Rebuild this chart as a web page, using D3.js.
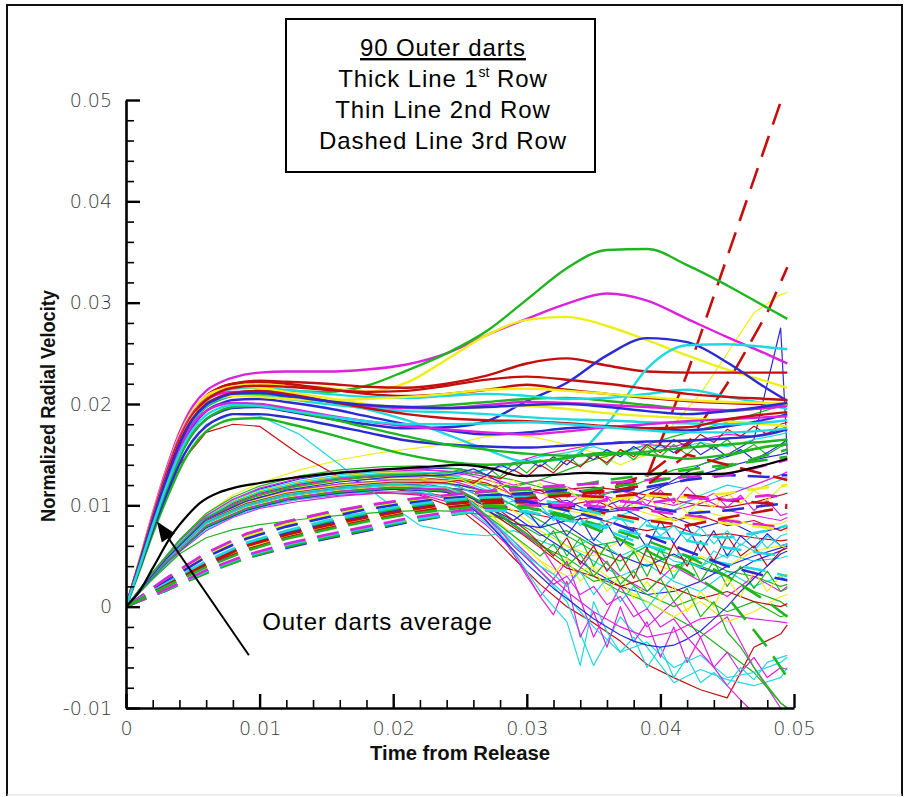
<!DOCTYPE html>
<html>
<head>
<meta charset="utf-8">
<script src="https://cdn.jsdelivr.net/npm/d3@7"></script>
<style>
  html, body { margin: 0; padding: 0; background: #fff; }
  svg { display: block; }
</style>
</head>
<body>
<svg id="chart" width="904" height="797"></svg>
<script>
// ---------------------------------------------------------------
// Radial velocity histories of the 90 outer darts
// ---------------------------------------------------------------

// Axis ticks
const xTicks = [0, 0.01, 0.02, 0.03, 0.04, 0.05];
const xTickLabels = ["0", "0.01", "0.02", "0.03", "0.04", "0.05"];
const yTicks = [-0.01, 0, 0.01, 0.02, 0.03, 0.04, 0.05];
const yTickLabels = ["-0.01", "0", "0.01", "0.02", "0.03", "0.04", "0.05"];

// 1st row (thick lines): time samples and velocity per dart
const row1Time = [0, .001, .002, .003, .004, .005, .006, .007, .008, .010, .012, .015,
                  .018, .021, .024, .027, .030, .033, .036, .039, .042, .045, .048, .0495];
const row1Velocity = [
  [0,.0045,.0092,.0135,.0172,.0198,.0213,.0221,.0226,.0231,.0232,.0232,.0234,.0239,.0250,.0268,.0284,.0299,.0309,.0302,.0284,.0266,.0249,.0240],
  [0,.0040,.0082,.0122,.0158,.0184,.0199,.0206,.0210,.0213,.0213,.0212,.0218,.0233,.0250,.0272,.0303,.0334,.0352,.0353,.0337,.0317,.0295,.0284],
  [0,.0044,.0090,.0131,.0167,.0192,.0206,.0213,.0217,.0220,.0219,.0216,.0212,.0221,.0244,.0268,.0283,.0286,.0277,.0263,.0248,.0234,.0222,.0216],
  [0,.0043,.0088,.0130,.0166,.0192,.0208,.0216,.0220,.0223,.0222,.0220,.0217,.0216,.0220,.0228,.0240,.0245,.0238,.0232,.0231,.0231,.0231,.0231],
  [0,.0038,.0078,.0115,.0148,.0171,.0185,.0192,.0196,.0197,.0193,.0186,.0180,.0176,.0177,.0183,.0203,.0221,.0248,.0265,.0261,.0241,.0215,.0203],
  [0,.0042,.0085,.0126,.0161,.0186,.0200,.0207,.0211,.0212,.0209,.0203,.0195,.0184,.0170,.0155,.0143,.0146,.0180,.0235,.0258,.0259,.0256,.0254],
  [0,.0044,.0089,.0131,.0167,.0193,.0208,.0216,.0220,.0222,.0220,.0215,.0210,.0208,.0210,.0214,.0219,.0214,.0210,.0206,.0203,.0201,.0200,.0200],
  [0,.0041,.0083,.0123,.0158,.0183,.0197,.0204,.0208,.0210,.0207,.0203,.0199,.0197,.0199,.0202,.0205,.0206,.0203,.0199,.0195,.0193,.0197,.0200],
  [0,.0040,.0081,.0120,.0154,.0178,.0193,.0200,.0204,.0205,.0202,.0196,.0188,.0180,.0174,.0170,.0172,.0176,.0178,.0176,.0174,.0178,.0185,.0190],
  [0,.0043,.0087,.0128,.0163,.0189,.0203,.0211,.0215,.0216,.0214,.0210,.0207,.0206,.0208,.0210,.0208,.0205,.0206,.0210,.0214,.0207,.0200,.0195],
  [0,.0045,.0091,.0133,.0169,.0194,.0208,.0214,.0217,.0216,.0212,.0206,.0200,.0196,.0195,.0197,.0198,.0195,.0191,.0188,.0186,.0183,.0180,.0178],
  [0,.0044,.0090,.0132,.0167,.0191,.0204,.0210,.0212,.0212,.0209,.0203,.0198,.0196,.0196,.0199,.0202,.0201,.0199,.0197,.0195,.0194,.0196,.0198],
  [0,.0043,.0087,.0129,.0164,.0189,.0204,.0212,.0216,.0218,.0217,.0214,.0212,.0213,.0218,.0224,.0227,.0224,.0220,.0215,.0210,.0207,.0205,.0204],
  [0,.0035,.0072,.0105,.0135,.0158,.0173,.0181,.0185,.0186,.0181,.0171,.0160,.0150,.0143,.0140,.0142,.0147,.0152,.0150,.0146,.0150,.0158,.0160],
  [0,.0037,.0075,.0110,.0141,.0164,.0178,.0186,.0190,.0190,.0187,.0180,.0172,.0164,.0160,.0158,.0157,.0159,.0161,.0163,.0164,.0166,.0170,.0175],
  [0,.0041,.0084,.0124,.0159,.0184,.0198,.0205,.0208,.0208,.0205,.0200,.0196,.0193,.0192,.0190,.0187,.0185,.0184,.0182,.0181,.0180,.0182,.0184],
  [0,.0042,.0086,.0127,.0162,.0187,.0200,.0206,.0208,.0207,.0205,.0204,.0205,.0207,.0210,.0214,.0215,.0213,.0210,.0207,.0204,.0202,.0201,.0200],
  [0,.0041,.0083,.0122,.0156,.0180,.0193,.0199,.0201,.0200,.0196,.0189,.0183,.0178,.0175,.0172,.0170,.0173,.0177,.0180,.0183,.0185,.0187,.0188],
  [0,.0042,.0086,.0127,.0162,.0186,.0200,.0207,.0211,.0213,.0210,.0203,.0196,.0190,.0186,.0184,.0183,.0181,.0178,.0176,.0177,.0185,.0190,.0192],
  [0,.0038,.0078,.0115,.0147,.0171,.0185,.0193,.0197,.0198,.0194,.0186,.0177,.0168,.0160,.0155,.0151,.0149,.0150,.0153,.0157,.0160,.0163,.0165],
  [0,.0042,.0085,.0125,.0160,.0185,.0199,.0206,.0210,.0211,.0208,.0203,.0199,.0197,.0196,.0197,.0199,.0200,.0197,.0193,.0190,.0193,.0198,.0201],
  [0,.0039,.0080,.0118,.0151,.0175,.0189,.0196,.0199,.0198,.0194,.0188,.0183,.0180,.0180,.0181,.0182,.0180,.0177,.0174,.0172,.0172,.0174,.0176]
];
const row1Colors = ["magenta","green","yellow","red","blue","cyan","red","green","blue","cyan","yellow",
                    "magenta","red","green","blue","cyan","yellow","magenta","red","green","blue","cyan"];

// 2nd row (thin lines), coarse sampling
const row2Time = [0, .002, .004, .006, .008, .010, .013, .016, .019, .022, .025, .027,
                  .029, .031, .033, .035, .037, .039, .041, .043, .045, .047, .049, .0495];
const row2Velocity = [
  [0,.0030,.0058,.0080,.0093,.0101,.0108,.0112,.0113,.0110,.0096,.0075,.0048,.0022,.0000,-.0016,-.0034,-.0057,-.0070,-.0082,-.0090,-.0040,-.0027,-.0018],
  [0,.0031,.0060,.0083,.0097,.0106,.0113,.0117,.0119,.0116,.0102,.0082,.0060,.0035,.0005,-.0058,-.0010,-.0040,-.0075,-.0062,-.0072,-.0078,-.0070,-.0060],
  [0,.0029,.0057,.0078,.0091,.0099,.0106,.0110,.0112,.0111,.0100,.0080,.0055,.0010,.0045,-.0030,.0020,-.0020,.0005,-.0030,-.0010,-.0060,-.0100,-.0105],
  [0,.0032,.0062,.0085,.0099,.0108,.0115,.0119,.0121,.0119,.0110,.0095,.0078,.0060,.0048,.0030,.0015,.0005,-.0010,-.0025,-.0045,-.0065,-.0095,-.0100],
  [0,.0033,.0065,.0092,.0110,.0122,.0135,.0145,.0152,.0157,.0162,.0168,.0170,.0166,.0160,.0152,.0140,.0150,.0180,.0210,.0250,.0290,.0308,.0310],
  [0,.0030,.0059,.0082,.0096,.0104,.0111,.0116,.0118,.0119,.0116,.0112,.0108,.0102,.0098,.0092,.0095,.0110,.0125,.0140,.0150,.0165,.0275,.0150],
  [0,.0034,.0066,.0090,.0104,.0113,.0121,.0127,.0130,.0130,.0125,.0115,.0100,.0080,.0060,.0045,.0030,.0042,.0025,.0015,.0035,.0020,.0030,.0025],
  [0,.0031,.0061,.0086,.0102,.0112,.0121,.0126,.0128,.0127,.0124,.0120,.0118,.0115,.0116,.0118,.0115,.0110,.0105,.0100,.0098,.0103,.0110,.0112],
  [0,.0027,.0052,.0068,.0076,.0081,.0086,.0090,.0093,.0095,.0094,.0090,.0085,.0070,.0075,.0060,.0065,.0050,.0040,.0048,.0035,.0030,.0020,.0022],
  [0,.0032,.0063,.0088,.0104,.0114,.0123,.0129,.0133,.0135,.0133,.0128,.0120,.0125,.0118,.0110,.0115,.0105,.0100,.0108,.0095,.0090,.0085,.0088],
  [0,.0033,.0064,.0089,.0105,.0116,.0126,.0132,.0135,.0137,.0136,.0130,.0115,.0095,.0080,.0062,.0050,.0040,.0052,.0038,.0030,.0045,.0055,.0060],
  [0,.0030,.0058,.0081,.0096,.0106,.0115,.0120,.0122,.0121,.0112,.0095,.0070,.0045,.0030,.0040,.0020,.0005,-.0010,.0005,-.0015,-.0005,.0010,.0012],
  [0,.0075,.0140,.0172,.0180,.0178,.0150,.0128,.0118,.0112,.0108,.0100,.0095,.0090,.0085,.0088,.0080,.0075,.0080,.0070,.0072,.0068,.0065,.0066],
  [0,.0078,.0145,.0180,.0190,.0188,.0170,.0140,.0108,.0080,.0072,.0070,.0075,.0065,.0055,.0068,.0050,.0062,.0045,.0040,.0052,.0045,.0048,.0050],
  [0,.0030,.0059,.0083,.0098,.0107,.0115,.0120,.0123,.0122,.0115,.0100,.0080,.0060,.0020,.0055,.0030,.0015,.0040,.0025,.0010,.0030,.0015,.0020],
  [0,.0031,.0061,.0085,.0100,.0110,.0119,.0124,.0126,.0125,.0120,.0112,.0100,.0085,.0070,.0055,.0045,.0060,.0050,.0040,.0030,.0015,.0005,.0000],
  [0,.0029,.0056,.0078,.0092,.0101,.0109,.0114,.0117,.0117,.0112,.0102,.0090,.0072,.0055,.0035,.0020,.0012,.0015,.0025,.0040,.0050,.0058,.0060],
  [0,.0032,.0062,.0087,.0103,.0113,.0122,.0128,.0131,.0131,.0127,.0122,.0110,.0115,.0100,.0105,.0095,.0098,.0085,.0090,.0080,.0085,.0075,.0078],
  [0,.0033,.0064,.0089,.0105,.0115,.0124,.0130,.0133,.0133,.0128,.0118,.0105,.0095,.0085,.0080,.0090,.0100,.0095,.0110,.0120,.0115,.0125,.0128],
  [0,.0031,.0060,.0084,.0099,.0109,.0118,.0124,.0127,.0127,.0122,.0110,.0095,.0075,.0060,.0050,.0065,.0045,.0035,.0050,.0040,.0055,.0060,.0058],
  [0,.0028,.0054,.0075,.0088,.0097,.0104,.0109,.0112,.0112,.0104,.0088,.0065,.0040,.0015,-.0005,-.0020,-.0030,-.0025,-.0012,-.0008,-.0012,-.0015,-.0016],
  [0,.0030,.0058,.0081,.0095,.0104,.0112,.0117,.0120,.0120,.0113,.0100,.0082,.0062,.0042,.0025,.0030,.0012,.0000,.0010,-.0005,.0005,-.0010,-.0008],
  [0,.0031,.0060,.0084,.0099,.0108,.0116,.0121,.0124,.0124,.0120,.0114,.0108,.0100,.0105,.0092,.0098,.0085,.0088,.0078,.0085,.0072,.0078,.0080],
  [0,.0029,.0057,.0080,.0094,.0103,.0111,.0116,.0119,.0118,.0110,.0096,.0078,.0058,.0038,.0030,.0020,.0028,.0018,.0008,.0015,.0005,.0000,.0003],
  [0,.0028,.0055,.0076,.0089,.0098,.0106,.0111,.0114,.0113,.0105,.0090,.0065,.0035,.0010,-.0020,-.0045,-.0035,-.0060,-.0048,-.0070,-.0065,-.0055,-.0050],
  [0,.0032,.0063,.0088,.0104,.0114,.0123,.0129,.0132,.0132,.0127,.0120,.0110,.0100,.0095,.0090,.0100,.0092,.0085,.0095,.0088,.0080,.0082,.0085],
  [0,.0033,.0065,.0090,.0106,.0117,.0127,.0133,.0136,.0136,.0132,.0125,.0118,.0112,.0108,.0112,.0105,.0100,.0095,.0102,.0110,.0120,.0130,.0133],
  [0,.0034,.0066,.0092,.0108,.0119,.0129,.0135,.0138,.0139,.0136,.0130,.0125,.0118,.0112,.0108,.0115,.0125,.0135,.0140,.0148,.0155,.0160,.0162],
  [0,.0030,.0058,.0081,.0096,.0105,.0113,.0118,.0121,.0120,.0110,.0095,.0082,.0078,.0085,.0095,.0105,.0115,.0122,.0130,.0138,.0145,.0150,.0152],
  [0,.0032,.0062,.0087,.0103,.0113,.0122,.0127,.0130,.0130,.0126,.0120,.0118,.0125,.0135,.0145,.0152,.0160,.0168,.0175,.0182,.0190,.0198,.0200],
  [0,.0031,.0061,.0086,.0101,.0111,.0120,.0126,.0129,.0129,.0130,.0135,.0142,.0150,.0155,.0160,.0163,.0160,.0158,.0165,.0170,.0168,.0175,.0178],
  [0,.0032,.0063,.0088,.0103,.0113,.0122,.0128,.0131,.0132,.0132,.0135,.0140,.0148,.0152,.0158,.0150,.0160,.0155,.0162,.0158,.0165,.0170,.0172]
];
const row2Colors = ["red","cyan","magenta","green","yellow","blue","cyan","red","green","magenta","blue",
                    "yellow","red","cyan","magenta","green","blue","red","cyan","yellow","magenta","green",
                    "blue","red","cyan","yellow","magenta","green","blue","green","magenta","cyan"];

// 2nd row (thin lines), darts logged at a finer rate after t = 0.024
const row2FineTime = [0, .003, .006, .009, .012, .016, .020,
  .024, .025, .026, .027, .028, .029, .030, .031, .032, .033, .034, .035, .036, .037, .038,
  .039, .040, .041, .042, .043, .044, .045, .046, .047, .048, .049, .0495];
const row2FineVelocity = [
  [0,.0044,.0080,.0097,.0107,.0114,.0118, .0115,.0108,.0098,.0085,.0070,.0052,.0030,.0010,-.0008,.0025,-.0030,-.0005,-.0040,.0000,-.0035,-.0015,-.0050,-.0020,-.0055,-.0030,-.0060,-.0045,-.0065,-.0050,-.0070,-.0060,-.0062],
  [0,.0046,.0083,.0100,.0110,.0117,.0121, .0117,.0110,.0100,.0088,.0072,.0055,.0035,.0015,.0000,-.0015,-.0058,.0005,-.0025,-.0045,-.0030,-.0060,-.0040,-.0070,-.0050,-.0075,-.0065,-.0078,-.0060,-.0072,-.0055,-.0050,-.0048],
  [0,.0045,.0082,.0099,.0109,.0116,.0120, .0118,.0114,.0108,.0100,.0090,.0080,.0072,.0060,.0075,.0050,.0068,.0040,.0062,.0035,.0055,.0030,.0058,.0028,.0050,.0025,.0045,.0020,.0040,.0018,.0035,.0015,.0018],
  [0,.0043,.0079,.0096,.0106,.0113,.0117, .0116,.0112,.0106,.0098,.0092,.0085,.0095,.0078,.0090,.0070,.0088,.0065,.0082,.0060,.0078,.0058,.0085,.0062,.0080,.0055,.0075,.0050,.0070,.0058,.0072,.0060,.0062],
  [0,.0047,.0085,.0102,.0112,.0119,.0123, .0122,.0118,.0112,.0104,.0095,.0085,.0075,.0062,.0050,.0068,.0042,.0060,.0035,.0052,.0028,.0058,.0032,.0062,.0040,.0065,.0045,.0070,.0050,.0060,.0040,.0055,.0058],
  [0,.0044,.0081,.0098,.0108,.0115,.0119, .0117,.0112,.0104,.0094,.0082,.0070,.0058,.0045,.0032,.0048,.0025,.0038,.0015,.0030,.0008,.0025,.0005,.0020,-.0005,.0015,.0000,.0028,.0010,.0035,.0015,.0030,.0032],
  [0,.0048,.0087,.0104,.0114,.0121,.0125, .0125,.0122,.0118,.0112,.0120,.0108,.0116,.0104,.0112,.0100,.0110,.0098,.0108,.0095,.0112,.0100,.0115,.0102,.0118,.0105,.0112,.0098,.0110,.0095,.0105,.0090,.0092],
  [0,.0045,.0082,.0099,.0109,.0116,.0120, .0118,.0112,.0102,.0090,.0076,.0062,.0050,.0040,.0032,.0020,.0035,.0012,.0028,.0005,.0020,-.0002,.0015,.0030,.0045,.0038,.0055,.0048,.0062,.0055,.0070,.0060,.0062],
  [0,.0048,.0088,.0106,.0117,.0125,.0130, .0132,.0135,.0130,.0138,.0128,.0142,.0132,.0145,.0135,.0150,.0138,.0152,.0140,.0155,.0145,.0158,.0148,.0160,.0150,.0162,.0155,.0165,.0152,.0160,.0150,.0158,.0160],
  [0,.0043,.0078,.0095,.0105,.0112,.0116, .0113,.0106,.0096,.0084,.0070,.0056,.0042,.0030,.0018,.0008,-.0002,-.0012,-.0020,-.0028,-.0034,-.0038,-.0040,-.0038,-.0032,-.0024,-.0012,.0000,.0015,.0028,.0040,.0052,.0055],
  [0,.0046,.0084,.0101,.0111,.0118,.0122, .0123,.0125,.0122,.0130,.0126,.0135,.0128,.0140,.0132,.0145,.0138,.0150,.0142,.0155,.0148,.0160,.0152,.0165,.0158,.0170,.0162,.0175,.0168,.0178,.0170,.0180,.0182],
  [0,.0047,.0086,.0103,.0113,.0120,.0124, .0124,.0126,.0120,.0128,.0118,.0125,.0112,.0122,.0108,.0118,.0105,.0115,.0100,.0112,.0098,.0110,.0095,.0108,.0092,.0105,.0098,.0112,.0102,.0115,.0105,.0118,.0120],
  [0,.0044,.0080,.0097,.0107,.0114,.0118, .0116,.0110,.0100,.0088,.0075,.0060,.0048,.0035,.0022,.0030,.0012,.0020,.0002,.0010,-.0010,-.0002,-.0020,-.0012,-.0030,-.0045,-.0060,-.0078,-.0092,-.0105,-.0110,-.0110,-.0110],
  [0,.0046,.0084,.0101,.0111,.0118,.0122, .0121,.0118,.0112,.0106,.0098,.0105,.0090,.0100,.0085,.0095,.0080,.0092,.0078,.0088,.0072,.0085,.0070,.0080,.0065,.0078,.0062,.0075,.0060,.0072,.0058,.0070,.0072],
  [0,.0043,.0079,.0096,.0106,.0113,.0117, .0114,.0108,.0100,.0090,.0080,.0070,.0060,.0050,.0062,.0040,.0052,.0030,.0045,.0022,.0035,.0015,.0028,.0005,.0018,-.0010,.0005,-.0025,-.0040,-.0060,-.0078,-.0095,-.0100],
  [0,.0047,.0086,.0104,.0115,.0123,.0128, .0130,.0132,.0136,.0130,.0140,.0134,.0145,.0138,.0148,.0140,.0152,.0145,.0155,.0148,.0158,.0150,.0160,.0152,.0162,.0150,.0158,.0148,.0155,.0145,.0152,.0160,.0165]
];
const row2FineColors = ["magenta","cyan","green","blue","red","yellow","magenta","cyan",
                        "green","blue","red","yellow","magenta","cyan","green","blue"];

// 3rd row (dashed lines)
const row3Time = [0, .003, .006, .009, .012, .015, .018, .021, .024, .027, .030, .033,
                  .036, .039, .042, .045, .048, .0495];
const row3Velocity = [
  [0,.0022,.0044,.0062,.0074,.0083,.0091,.0098,.0104,.0108,.0110,.0112,.0115,.0128,.0230,.0345,.0460,.0517],
  [0,.0020,.0041,.0058,.0070,.0079,.0087,.0094,.0100,.0104,.0106,.0110,.0118,.0130,.0160,.0220,.0290,.0335],
  [0,.0027,.0051,.0071,.0083,.0092,.0099,.0105,.0109,.0113,.0115,.0118,.0125,.0130,.0135,.0140,.0145,.0148],
  [0,.0016,.0034,.0048,.0058,.0067,.0075,.0083,.0090,.0096,.0100,.0100,.0095,.0098,.0092,.0095,.0100,.0102],
  [0,.0021,.0042,.0059,.0071,.0080,.0088,.0095,.0100,.0103,.0100,.0090,.0075,.0060,.0050,.0042,.0035,.0030],
  [0,.0026,.0050,.0069,.0081,.0090,.0097,.0103,.0108,.0111,.0113,.0108,.0105,.0110,.0108,.0112,.0118,.0120],
  [0,.0020,.0040,.0057,.0069,.0078,.0086,.0093,.0099,.0103,.0105,.0102,.0098,.0095,.0090,.0085,.0080,.0078],
  [0,.0022,.0043,.0061,.0073,.0082,.0090,.0097,.0102,.0106,.0108,.0110,.0108,.0112,.0110,.0105,.0102,.0100],
  [0,.0016,.0033,.0048,.0059,.0068,.0076,.0084,.0090,.0095,.0098,.0090,.0078,.0065,.0050,.0030,.0005,-.0010],
  [0,.0025,.0049,.0067,.0079,.0088,.0096,.0102,.0107,.0110,.0112,.0115,.0112,.0118,.0125,.0130,.0128,.0130],
  [0,.0017,.0035,.0050,.0061,.0070,.0078,.0085,.0091,.0095,.0094,.0085,.0078,.0070,.0065,.0058,.0052,.0050],
  [0,.0021,.0041,.0058,.0070,.0079,.0087,.0094,.0099,.0102,.0100,.0095,.0090,.0085,.0088,.0082,.0078,.0075],
  [0,.0028,.0053,.0072,.0084,.0093,.0100,.0106,.0110,.0114,.0117,.0120,.0122,.0125,.0128,.0130,.0140,.0145],
  [0,.0020,.0040,.0056,.0068,.0077,.0085,.0092,.0098,.0102,.0103,.0098,.0092,.0085,.0080,.0088,.0095,.0098],
  [0,.0022,.0044,.0062,.0074,.0083,.0091,.0098,.0103,.0107,.0109,.0112,.0118,.0122,.0130,.0138,.0150,.0155],
  [0,.0021,.0042,.0060,.0072,.0081,.0089,.0096,.0101,.0105,.0104,.0095,.0085,.0070,.0055,.0040,.0030,.0026],
  [0,.0023,.0045,.0063,.0075,.0085,.0093,.0100,.0105,.0108,.0108,.0100,.0090,.0080,.0072,.0068,.0075,.0080],
  [0,.0017,.0036,.0051,.0062,.0071,.0079,.0087,.0093,.0098,.0100,.0100,.0105,.0102,.0108,.0105,.0110,.0108],
  [0,.0021,.0042,.0060,.0071,.0080,.0088,.0095,.0101,.0105,.0107,.0110,.0114,.0120,.0150,.0140,.0130,.0125],
  [0,.0020,.0039,.0055,.0067,.0076,.0084,.0091,.0096,.0100,.0098,.0088,.0072,.0055,.0035,.0010,-.0040,-.0070]
];
const row3Colors = ["red","red","green","blue","cyan","yellow","magenta","red","green","blue",
                    "cyan","yellow","magenta","red","green","blue","cyan","magenta","red","green"];

// Average over all outer darts
const averageTime = [0, .001, .002, .0035, .0046, .0055, .007, .008, .010, .013, .015, .018, .020,
                     .0225, .025, .0275, .0295, .032, .0345, .037, .0394, .042, .0445, .0469, .0495];
const averageVelocity = [0, .0015, .0038, .0072, .0090, .0102, .0113, .0117, .0122, .0128, .0131, .0134, .0136,
                         .0138, .0140, .0136, .0129, .0130, .0132, .0131, .0131, .0131, .0131, .0137, .0146];

// ---------------------------------------------------------------
const palette = {
  red: "#c40f0f", green: "#1fb51f", blue: "#2b2bd6",
  cyan: "#1fd9e0", yellow: "#eeee1a", magenta: "#dd22dd"
};

const W = 904, H = 797;
const plot = { left: 126, right: 794, top: 100, bottom: 708 };

const svg = d3.select("#chart");

// page frame
svg.append("rect").attr("x", 0).attr("y", 0).attr("width", W).attr("height", H).attr("fill", "#fff");
svg.append("path")
  .attr("d", "M7,796 L7,5 L902,5 L902,796")
  .attr("fill", "none").attr("stroke", "#111").attr("stroke-width", 2);
svg.append("line").attr("x1", 7).attr("x2", 902).attr("y1", 795).attr("y2", 795)
  .attr("stroke", "#ddd").attr("stroke-width", 1);

const x = d3.scaleLinear().domain([0, 0.05]).range([plot.left, plot.right]);
const y = d3.scaleLinear().domain([-0.01, 0.05]).range([plot.bottom, plot.top]);

svg.append("clipPath").attr("id", "plotClip")
  .append("rect")
  .attr("x", plot.left).attr("y", plot.top)
  .attr("width", plot.right - plot.left).attr("height", plot.bottom - plot.top);

const lines = svg.append("g").attr("clip-path", "url(#plotClip)").attr("fill", "none");

const linear = d3.line().defined(d => d[0] != null && d[1] != null)
  .x(d => x(d[0])).y(d => y(d[1])).curve(d3.curveLinear);
const smooth = d3.line().defined(d => d[0] != null && d[1] != null)
  .x(d => x(d[0])).y(d => y(d[1])).curve(d3.curveMonotoneX);

const pairs = (time, vals) => vals.map((v, i) => [time[i], v]);

// 2nd row: thin
lines.append("g").selectAll("path")
  .data(row2Velocity)
  .join("path")
  .attr("d", v => linear(pairs(row2Time, v)))
  .attr("stroke", (v, i) => palette[row2Colors[i]])
  .attr("stroke-width", 1.2)
  .attr("stroke-linejoin", "round");

lines.append("g").selectAll("path")
  .data(row2FineVelocity)
  .join("path")
  .attr("d", v => linear(pairs(row2FineTime, v)))
  .attr("stroke", (v, i) => palette[row2FineColors[i]])
  .attr("stroke-width", 1.2)
  .attr("stroke-linejoin", "round");

// 3rd row: dashed
lines.append("g").selectAll("path")
  .data(row3Velocity)
  .join("path")
  .attr("d", v => linear(pairs(row3Time, v)))
  .attr("stroke", (v, i) => palette[row3Colors[i]])
  .attr("stroke-width", 2.6)
  .attr("stroke-dasharray", "22,12");

// 1st row: thick
lines.append("g").selectAll("path")
  .data(row1Velocity)
  .join("path")
  .attr("d", v => smooth(pairs(row1Time, v)))
  .attr("stroke", (v, i) => palette[row1Colors[i]])
  .attr("stroke-width", 2.4)
  .attr("stroke-linejoin", "round");

// average
lines.append("path")
  .attr("d", smooth(pairs(averageTime, averageVelocity)))
  .attr("stroke", "#000")
  .attr("stroke-width", 2.2);

// ---------------------------------------------------------------
// Axes
const tickFont = "'DejaVu Sans', 'Liberation Sans', sans-serif";
const minorX = d3.range(0, 0.0501, 0.002).filter(v => Math.abs(v / 0.01 - Math.round(v / 0.01)) > 1e-6);
const minorY = d3.range(-0.01, 0.0501, 0.002).filter(v => Math.abs(v / 0.01 - Math.round(v / 0.01)) > 1e-6);

const xMinor = svg.append("g").attr("transform", `translate(0,${plot.bottom})`)
  .call(d3.axisBottom(x).tickValues(minorX).tickSizeInner(-8).tickSizeOuter(0).tickFormat(""));
const yMinor = svg.append("g").attr("transform", `translate(${plot.left},0)`)
  .call(d3.axisLeft(y).tickValues(minorY).tickSizeInner(-8).tickSizeOuter(0).tickFormat(""));

const xAxis = svg.append("g").attr("transform", `translate(0,${plot.bottom})`)
  .call(d3.axisBottom(x).tickValues(xTicks).tickSizeInner(-14).tickSizeOuter(0).tickPadding(14)
    .tickFormat((d, i) => xTickLabels[i]));
const yAxis = svg.append("g").attr("transform", `translate(${plot.left},0)`)
  .call(d3.axisLeft(y).tickValues(yTicks).tickSizeInner(-14).tickSizeOuter(0).tickPadding(14)
    .tickFormat((d, i) => yTickLabels[i]));

[xMinor, yMinor].forEach(g => {
  g.select(".domain").remove();
  g.selectAll(".tick line").attr("stroke", "#000").attr("stroke-width", 1.6);
});
[xAxis, yAxis].forEach(g => {
  g.select(".domain").attr("stroke", "#000").attr("stroke-width", 2.6);
  g.selectAll(".tick line").attr("stroke", "#000").attr("stroke-width", 2.4);
  g.selectAll(".tick text")
    .attr("font-family", tickFont).attr("font-weight", 200)
    .attr("font-size", 19).attr("fill", "#3a3a3a");
});

// axis titles (condensed to the narrow face used by the plotting package)
const titleFont = "'Liberation Sans', Arial, sans-serif";
svg.append("text")
  .attr("x", (plot.left + plot.right) / 2).attr("y", 760)
  .attr("text-anchor", "middle")
  .attr("font-family", titleFont).attr("font-weight", "bold").attr("font-size", 21)
  .attr("textLength", 180).attr("lengthAdjust", "spacingAndGlyphs")
  .attr("fill", "#111")
  .text("Time from Release");
svg.append("text")
  .attr("transform", `translate(55,${y(0.02) + 2}) rotate(-90)`)
  .attr("text-anchor", "middle")
  .attr("font-family", titleFont).attr("font-weight", "bold").attr("font-size", 21)
  .attr("textLength", 232).attr("lengthAdjust", "spacingAndGlyphs")
  .attr("fill", "#111")
  .text("Normalized Radial Velocity");

// ---------------------------------------------------------------
// Legend box
const legendFont = "'Liberation Sans', Arial, Helvetica, sans-serif";
const legend = svg.append("g");
legend.append("rect")
  .attr("x", 286).attr("y", 19).attr("width", 309).attr("height", 153)
  .attr("fill", "#fff").attr("stroke", "#000").attr("stroke-width", 2);
const cx = 443;
const legendText = (yy) => legend.append("text")
  .attr("x", cx).attr("y", yy).attr("text-anchor", "middle")
  .attr("font-family", legendFont).attr("font-size", 24).attr("letter-spacing", 0.9)
  .attr("fill", "#000");
legendText(56).text("90 Outer darts").style("text-decoration", "underline");
const l2 = legendText(87);
l2.append("tspan").text("Thick Line 1");
l2.append("tspan").attr("font-size", 14).attr("dy", -10).attr("letter-spacing", 0).text("st");
l2.append("tspan").attr("dy", 10).text(" Row");
legendText(118).text("Thin Line 2nd Row");
legendText(149).text("Dashed Line 3rd Row");

// ---------------------------------------------------------------
// Annotation for the average curve
const tip = [x(0.00232), y(0.00840)];
const tail = [x(0.0092), y(-0.0048)];
const ang = Math.atan2(tail[1] - tip[1], tail[0] - tip[0]);
const headLen = 20, headHalf = 8;
const base = [tip[0] + headLen * Math.cos(ang), tip[1] + headLen * Math.sin(ang)];
svg.append("line")
  .attr("x1", base[0]).attr("y1", base[1]).attr("x2", tail[0]).attr("y2", tail[1])
  .attr("stroke", "#000").attr("stroke-width", 2);
svg.append("path")
  .attr("d", `M${tip[0]},${tip[1]}` +
    `L${base[0] - headHalf * Math.sin(ang)},${base[1] + headHalf * Math.cos(ang)}` +
    `L${base[0] + headHalf * Math.sin(ang)},${base[1] - headHalf * Math.cos(ang)}Z`)
  .attr("fill", "#000");
svg.append("text")
  .attr("x", x(0.0102)).attr("y", y(-0.0023))
  .attr("font-family", legendFont).attr("font-size", 24).attr("letter-spacing", 0.9)
  .attr("fill", "#000")
  .text("Outer darts average");
</script>
</body>
</html>
